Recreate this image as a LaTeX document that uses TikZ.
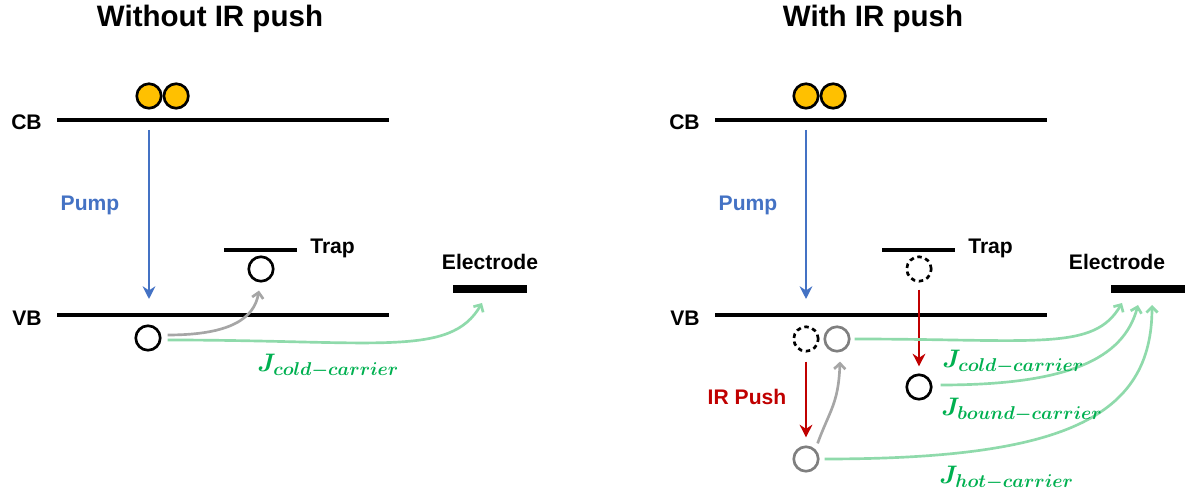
\RequirePackage{fix-cm}
\documentclass[tikz,border=0pt]{standalone}
\usepackage{fontspec}
\setmainfont{Liberation Sans}
\usepackage{amsmath}
\usetikzlibrary{positioning,arrows.meta}
\DeclareMathSizes{18}{18}{13.2}{10}
\definecolor{pumpblue}{HTML}{4472C4}
\definecolor{pushred}{HTML}{C00000}
\definecolor{jgreen}{HTML}{00B050}
\definecolor{flowgreen}{HTML}{8FDAAB}
\definecolor{elecyellow}{HTML}{FFC000}
\definecolor{holegray}{HTML}{7F7F7F}
\definecolor{pathgray}{HTML}{A6A6A6}

\begin{document}
\begin{tikzpicture}[x=0.025cm,y=-0.025cm,
  band/.style={draw=black,line width=3pt},
  bar/.style={fill=black,minimum width=52.6pt,minimum height=5.7pt,inner sep=0pt},
  lbl/.style={font=\fontsize{15}{18}\selectfont\bfseries,inner sep=0pt},
  ttl/.style={font=\fontsize{21}{25}\selectfont\bfseries,inner sep=0pt},
  elec/.style={circle,draw=black,fill=elecyellow,line width=1.9pt,minimum size=17.4pt,inner sep=0pt},
  hole/.style={circle,draw=black,line width=1.9pt,minimum size=17.4pt,inner sep=0pt},
  ghole/.style={hole,draw=holegray},
  dhole/.style={hole,dash pattern=on 3.2pt off 2.6pt},
  vert/.style={-{Stealth[length=9pt,width=9pt]},line width=1.9pt},
  hop/.style={-{Straight Barb[length=4pt,width=8pt]},draw=pathgray,line width=1.9pt},
  flow/.style={-{Straight Barb[length=4pt,width=8pt]},draw=flowgreen,line width=1.9pt},
  jlbl/.style={text=jgreen,inner sep=0pt,anchor=west,font=\fontsize{18}{21}\selectfont}]
  \useasboundingbox (0,0) rectangle (1186,497);

  % without IR push
  \node[ttl] (titleL) at (210,19) {Without IR push};
  \node[lbl,anchor=east] (cbL) at (42,122) {CB};
  \node[lbl,anchor=east] (vbL) at (42,318) {VB};
  \draw[band] (57,120) -- (389,120);
  \draw[band] (57,315) -- (389,315);
  \draw[band] (224,250) -- (297,250);
  \node[elec] (e1L) at (149,96) {};
  \node[elec,right=0pt of e1L] (e2L) {};
  \coordinate (pumpsL) at (149,130);
  \coordinate (pumpeL) at (149,299);
  \draw[vert,draw=pumpblue] (pumpsL) -- (pumpeL);
  \node[lbl,text=pumpblue] (pumpL) at (90,205) {Pump};
  \node[lbl,anchor=west] (trapL) at (310,248) {Trap};
  \node[hole] (thL) at (261,269) {};
  \node[lbl] (elecL) at (490,262) {Electrode};
  \node[bar] (barL) at (490,289) {};
  \node[hole] (hL) at (148,338) {};
  \coordinate (tipL) at (482,303);
  \draw[hop] ([shift={(6,-3)}]hL.east) to[out=0,in=-100,out distance=45pt,in distance=20pt] ([shift={(-2,8)}]thL.south);
  \draw[flow] ([shift={(6,2)}]hL.east) to[out=0,in=-120,out distance=150pt,in distance=45pt] (tipL);
  \node[jlbl] (jL) at (257,366) {$\boldsymbol{J_{cold-carrier}}$};

  % with IR push
  \node[ttl] (titleR) at (873,19) {With IR push};
  \node[lbl,anchor=east] (cbR) at (700,122) {CB};
  \node[lbl,anchor=east] (vbR) at (700,318) {VB};
  \draw[band] (715,120) -- (1047,120);
  \draw[band] (715,315) -- (1047,315);
  \draw[band] (882,250) -- (955,250);
  \node[elec] (e1R) at (806,96) {};
  \node[elec,right=0pt of e1R] (e2R) {};
  \coordinate (pumpsR) at (806,130);
  \coordinate (pumpeR) at (806,299);
  \draw[vert,draw=pumpblue] (pumpsR) -- (pumpeR);
  \node[lbl,text=pumpblue] (pumpR) at (748,205) {Pump};
  \node[lbl,anchor=west] (trapR) at (968,248) {Trap};
  \node[hole,dhole] (thR) at (919,269) {};
  \node[lbl] (elecR) at (1117,262) {Electrode};
  \node[bar] (barR) at (1148,289) {};
  \node[hole,dhole] (dhR) at (806,339) {};
  \node[ghole] (ghR) at (837,339) {};
  \node[hole] (bhR) at (919,387) {};
  \node[ghole] (hhR) at (806,459) {};
  \node[lbl,text=pushred] (pushR) at (747,397) {IR Push};
  \draw[vert,draw=pushred] ([shift={(0,7)}]thR.south) -- ([shift={(0,-7)}]bhR.north);
  \draw[vert,draw=pushred] ([shift={(0,9)}]dhR.south) -- ([shift={(0,-8)}]hhR.north);
  \draw[hop] ([shift={(2,-6)}]hhR.north east) to[out=70,in=-92,out distance=25pt,in distance=30pt] ([shift={(3,9)}]ghR.south);
  \coordinate (tipcR) at (1122,303);
  \coordinate (tipbR) at (1138,305);
  \coordinate (tiphR) at (1152,305);
  \draw[flow] ([shift={(4,0)}]ghR.east) to[out=0,in=-120,out distance=130pt,in distance=40pt] (tipcR);
  \draw[flow] ([shift={(8,-2)}]bhR.east) to[out=0,in=-105,out distance=90pt,in distance=40pt] (tipbR);
  \draw[flow] ([shift={(5,0)}]hhR.east) to[out=0,in=-90,out distance=170pt,in distance=80pt] (tiphR);
  \node[jlbl] (jcR) at (942,362) {$\boldsymbol{J_{cold-carrier}}$};
  \node[jlbl] (jbR) at (941,410) {$\boldsymbol{J_{bound-carrier}}$};
  \node[jlbl] (jhR) at (939,478) {$\boldsymbol{J_{hot-carrier}}$};
\end{tikzpicture}
\end{document}
